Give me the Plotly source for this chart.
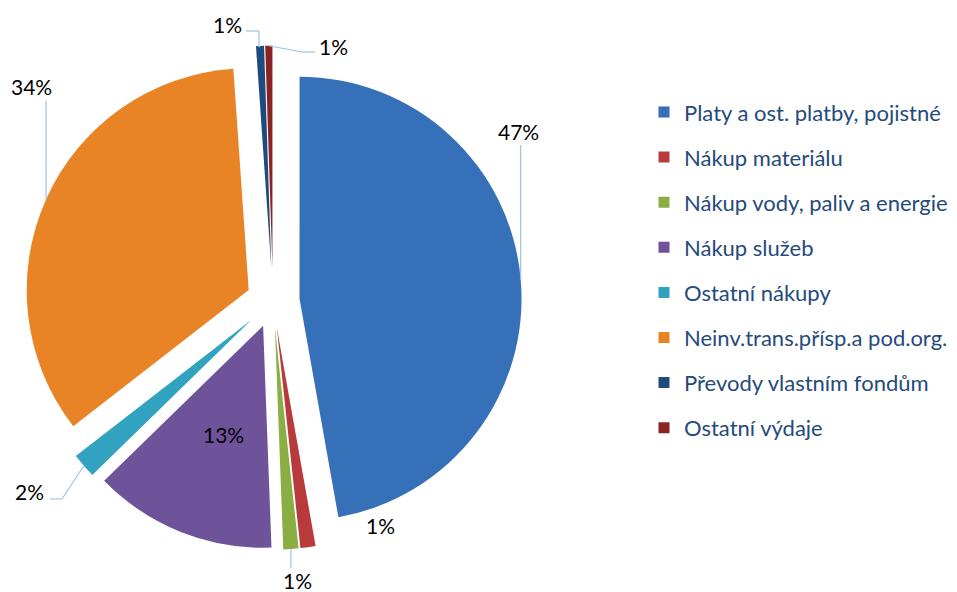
import math
import plotly.graph_objects as go

# ---- data ----
categories = [
    "Platy a ost. platby, pojistné",
    "Nákup materiálu",
    "Nákup vody, paliv a energie",
    "Nákup služeb",
    "Ostatní nákupy",
    "Neinv.trans.přísp.a pod.org.",
    "Převody vlastním fondům",
    "Ostatní výdaje",
]
shares = [47.2, 1.1, 1.1, 13.3, 1.8, 34.4, 0.58, 0.52]

# ---- style / layout ----
colors = ["#3670B8", "#B83A3A", "#8AAE44", "#6E529A", "#31A2C0", "#E88326", "#1F4A7E", "#8B2323"]
pulls = [0.12, 0.12, 0.12, 0.12, 0.13, 0.12, 0.15, 0.15]
W, H = 957, 592
CX, CY, R = 273, 301, 222
FONT = "Lato"
LINE_COLOR = "#9DC3E6"

# label placement (pixels) and leader-line waypoints ('o' = use slice outer x)
label_pos = [(518, 131), (380, 525), (297, 580), (223, 434), (30, 492), (31, 87), (227, 25), (333, 46)]
leaders = [
    [("o", 145)],
    [],
    [("o", 568)],
    None,
    [(50, 499), (62, 499)],
    [("o", 101)],
    [(246, 31), (259, 31), (259, 47)],
    [(315, 52), (302, 52)],
]

maxpull = max(pulls)
half = R * (1 + maxpull)
dom_x = [(CX - half) / W, (CX + half) / W]
dom_y = [1 - (CY + half) / H, 1 - (CY - half) / H]

fig = go.Figure()
fig.add_trace(go.Pie(
    labels=categories, values=shares, sort=False, direction="clockwise", rotation=0,
    marker=dict(colors=colors, line=dict(width=0)), pull=pulls,
    textinfo="none", showlegend=False, domain=dict(x=dom_x, y=dom_y),
    hoverinfo="label+percent",
))

# legend entries
for name, c in zip(categories, colors):
    fig.add_trace(go.Scatter(x=[None], y=[None], mode="markers", name=name, legendgroup=name,
                             marker=dict(symbol="square", size=11, color=c), hoverinfo="skip"))

def px2paper(x, y):
    return x / W, 1 - y / H

total = sum(shares)
cum = 0.0
annotations, shapes = [], []
for i, v in enumerate(shares):
    frac = v / total
    theta = 2 * math.pi * (cum + frac / 2)
    cum += frac
    dx, dy = math.sin(theta), -math.cos(theta)
    ax = CX + pulls[i] * R * dx
    ay = CY + pulls[i] * R * dy
    ox, oy = ax + R * dx, ay + R * dy
    pct = int(frac * 100 + 0.5)
    lx, ly = label_pos[i]
    px, py = px2paper(lx, ly)
    annotations.append(dict(x=px, y=py, xref="paper", yref="paper", text=f"{pct}%", showarrow=False,
                            xanchor="center", yanchor="middle", font=dict(family=FONT, size=21, color="#000000")))
    if leaders[i]:
        pts = [(ox if a == "o" else a, b) for a, b in leaders[i]] + [(ox, oy)]
        for (x0, y0), (x1, y1) in zip(pts[:-1], pts[1:]):
            p0 = px2paper(x0, y0)
            p1 = px2paper(x1, y1)
            shapes.append(dict(type="line", xref="paper", yref="paper", x0=p0[0], y0=p0[1], x1=p1[0], y1=p1[1],
                               line=dict(color=LINE_COLOR, width=1.2)))

LEG_FS = 22
item_h = LEG_FS * 1.3 + 3
fig.update_layout(
    width=W, height=H, margin=dict(l=0, r=0, t=0, b=0),
    paper_bgcolor="white", plot_bgcolor="white",
    xaxis=dict(visible=False), yaxis=dict(visible=False),
    annotations=annotations, shapes=shapes,
    legend=dict(x=644 / W, y=1 - (112 - item_h / 2 - 5) / H, xanchor="left", yanchor="top",
                tracegroupgap=45.1 - item_h, traceorder="grouped",
                font=dict(family=FONT, size=LEG_FS, color="#254A7C"), itemclick=False),
    font=dict(family=FONT),
)
fig.write_html("out.html", config={"displayModeBar": False},
               post_script="document.body.style.margin='0';")
